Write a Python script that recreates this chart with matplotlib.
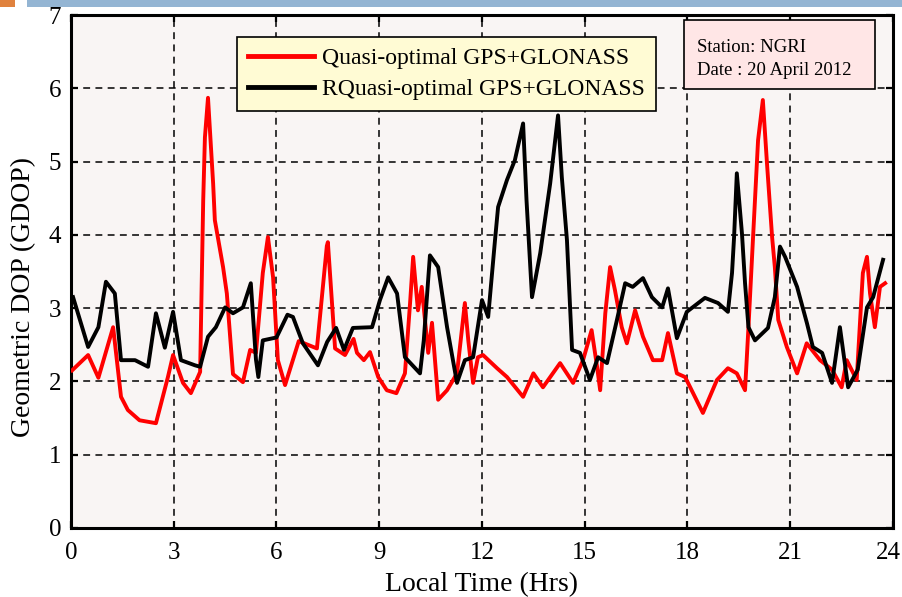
import matplotlib
matplotlib.use("Agg")
import matplotlib.pyplot as plt
from matplotlib.patches import Rectangle
from matplotlib.transforms import ScaledTranslation

plt.rcParams['font.family'] = ['Liberation Serif', 'DejaVu Serif']

# Quasi-optimal GPS+GLONASS GDOP (local time in hours)
quasi_time = [0.03, 0.50, 0.80, 1.23, 1.46, 1.66, 2.00, 2.48, 2.83, 2.98, 3.27, 3.50,
              3.77, 3.86, 3.91, 4.00, 4.15, 4.20, 4.44, 4.55, 4.73, 5.02, 5.23, 5.40,
              5.60, 5.75, 5.90, 6.04, 6.25, 6.65, 7.18, 7.47, 7.50, 7.71, 8.00, 8.25,
              8.35, 8.55, 8.73, 8.97, 9.22, 9.50, 9.75, 9.90, 9.99, 10.13, 10.24, 10.43,
              10.54, 10.72, 10.98, 11.27, 11.50, 11.60, 11.74, 11.88, 12.03, 12.44, 12.73,
              13.20, 13.50, 13.78, 14.28, 14.66, 14.95, 15.20, 15.36, 15.45, 15.60, 15.74,
              15.88, 16.08, 16.23, 16.47, 16.70, 16.99, 17.26, 17.43, 17.69, 17.93, 18.45,
              18.86, 19.18, 19.44, 19.68, 19.78, 19.91, 20.06, 20.20, 20.32, 20.47, 20.55,
              20.65, 20.90, 21.20, 21.48, 21.87, 22.22, 22.50, 22.65, 22.94, 23.12, 23.24,
              23.33, 23.47, 23.62, 23.77]
quasi_gdop = [2.15, 2.36, 2.05, 2.74, 1.79, 1.61, 1.47, 1.43, 2.06, 2.36, 1.98, 1.84,
              2.13, 4.47, 5.33, 5.87, 4.70, 4.20, 3.56, 3.20, 2.10, 1.99, 2.43, 2.39,
              3.48, 3.97, 3.42, 2.29, 1.95, 2.55, 2.45, 3.85, 3.90, 2.45, 2.36, 2.58,
              2.39, 2.29, 2.40, 2.06, 1.88, 1.84, 2.11, 3.07, 3.70, 2.97, 3.29, 2.39,
              2.80, 1.75, 1.88, 2.11, 3.07, 2.56, 1.98, 2.33, 2.36, 2.18, 2.06,
              1.79, 2.11, 1.92, 2.25, 1.98, 2.29, 2.70, 2.20, 1.88, 2.93, 3.56,
              3.25, 2.74, 2.52, 2.97, 2.61, 2.29, 2.29, 2.66, 2.11, 2.06, 1.57,
              2.02, 2.18, 2.11, 1.88, 2.74, 3.93, 5.29, 5.84, 4.98, 3.97, 3.56,
              2.84, 2.47, 2.11, 2.52, 2.29, 2.16, 1.92, 2.29, 2.02, 3.48, 3.70,
              3.20, 2.74, 3.29, 3.34]

# RQuasi-optimal GPS+GLONASS GDOP
rquasi_time = [0.06, 0.50, 0.80, 1.02, 1.28, 1.46, 1.87, 2.25, 2.48, 2.74, 2.98, 3.21,
               3.62, 3.77, 4.00, 4.23, 4.50, 4.73, 5.02, 5.25, 5.40, 5.47, 5.60, 6.00,
               6.32, 6.48, 6.77, 7.21, 7.48, 7.74, 7.97, 8.23, 8.79, 9.02, 9.26, 9.52,
               9.75, 10.19, 10.30, 10.48, 10.72, 10.98, 11.27, 11.50, 11.74, 12.00, 12.18,
               12.38, 12.47, 12.73, 12.96, 13.20, 13.30, 13.46, 13.70, 13.99, 14.22, 14.33,
               14.48, 14.63, 14.86, 15.15, 15.39, 15.65, 15.94, 16.18, 16.40, 16.70, 16.96,
               17.26, 17.43, 17.69, 17.98, 18.51, 18.89, 19.18, 19.30, 19.36, 19.44, 19.59,
               19.68, 19.78, 19.97, 20.35, 20.55, 20.70, 20.85, 21.20, 21.49, 21.66, 21.93,
               22.22, 22.45, 22.69, 22.97, 23.24, 23.42, 23.71]
rquasi_gdop = [3.15, 2.47, 2.74, 3.36, 3.20, 2.29, 2.29, 2.20, 2.93, 2.46, 2.95, 2.29,
               2.22, 2.20, 2.61, 2.74, 3.01, 2.93, 3.01, 3.34, 2.30, 2.06, 2.56, 2.60,
               2.91, 2.88, 2.52, 2.22, 2.54, 2.73, 2.43, 2.73, 2.74, 3.11, 3.42, 3.20,
               2.33, 2.11, 2.56, 3.72, 3.56, 2.74, 1.98, 2.29, 2.33, 3.11, 2.88,
               3.93, 4.38, 4.75, 5.02, 5.52, 4.47, 3.15, 3.75, 4.70, 5.63, 4.79,
               3.93, 2.43, 2.39, 2.02, 2.33, 2.25, 2.84, 3.34, 3.29, 3.41, 3.15,
               3.01, 3.27, 2.59, 2.95, 3.14, 3.07, 2.95, 3.48, 3.97, 4.84, 4.02,
               3.34, 2.74, 2.56, 2.73, 3.15, 3.84, 3.70, 3.29, 2.79, 2.47, 2.39,
               1.98, 2.74, 1.92, 2.16, 3.01, 3.15, 3.66]

x_ticks = [0, 3, 6, 9, 12, 15, 18, 21, 24]
y_ticks = [0, 1, 2, 3, 4, 5, 6, 7]
series_labels = ['Quasi-optimal GPS+GLONASS', 'RQuasi-optimal GPS+GLONASS']
info_lines = ['Station: NGRI', 'Date : 20 April 2012']

fig = plt.figure(figsize=(9.03, 5.97), dpi=100)
fig.patch.set_facecolor('white')

# slide header decorations
fig.add_artist(Rectangle((0, 1 - 7 / 597), 15 / 903, 7 / 597, transform=fig.transFigure,
                         facecolor='#e0823e', edgecolor='none'))
fig.add_artist(Rectangle((27 / 903, 1 - 7 / 597), 1 - 27 / 903, 7 / 597,
                         transform=fig.transFigure, facecolor='#94b5d3', edgecolor='none'))

ax = fig.add_axes([71 / 903, 1 - 528 / 597, 822 / 903, 513 / 597])
ax.set_facecolor('#f9f5f4')

ax.plot(quasi_time, quasi_gdop, color='#ff0000', lw=2.8, label=series_labels[0], zorder=3)
ax.plot(rquasi_time, rquasi_gdop, color='black', lw=2.8, label=series_labels[1], zorder=4)

ax.set_xlim(0, 24)
ax.set_ylim(0, 7)
ax.set_xticks(x_ticks)
ax.set_yticks(y_ticks)
ax.grid(True, color='black', lw=1.1, linestyle=(0, (4.5, 3.5)))
ax.set_axisbelow(True)
ax.tick_params(direction='in', length=5, width=1.6, top=True, right=True, labelsize=18)
ax.tick_params(axis='x', pad=10)
ax.tick_params(axis='y', pad=7)
for sp in ax.spines.values():
    sp.set_linewidth(2.2)

# keep the last hour label inside the canvas
last = ax.get_xticklabels()[-1]
last.set_transform(last.get_transform() + ScaledTranslation(-5 / 100, 0, fig.dpi_scale_trans))

ax.set_xlabel('Local Time (Hrs)', fontsize=20, labelpad=6)
ax.set_ylabel('Geometric DOP (GDOP)', fontsize=20)
ax.yaxis.set_label_coords(-0.043, 0.45)

leg = ax.legend(loc='upper left', bbox_to_anchor=(0.202, 0.957), borderaxespad=0,
                fontsize=17, handlelength=2.8, handletextpad=0.35, labelspacing=0.4,
                borderpad=0.45, fancybox=False, framealpha=1, facecolor='#fffbd4',
                edgecolor='black')
leg.get_frame().set_linewidth(1.2)
for h in leg.get_lines():
    h.set_linewidth(3.5)

ax.add_patch(Rectangle((0.7457, 0.8558), 0.2324, 0.134, transform=ax.transAxes,
                       facecolor='#ffe6e6', edgecolor='black', lw=1.2, zorder=6))
ax.text(0.7616, 0.928, info_lines[0], transform=ax.transAxes, fontsize=13.5, zorder=7,
        va='baseline')
ax.text(0.7616, 0.883, info_lines[1], transform=ax.transAxes, fontsize=13.5, zorder=7,
        va='baseline')

fig.savefig('out.png', dpi=100)
